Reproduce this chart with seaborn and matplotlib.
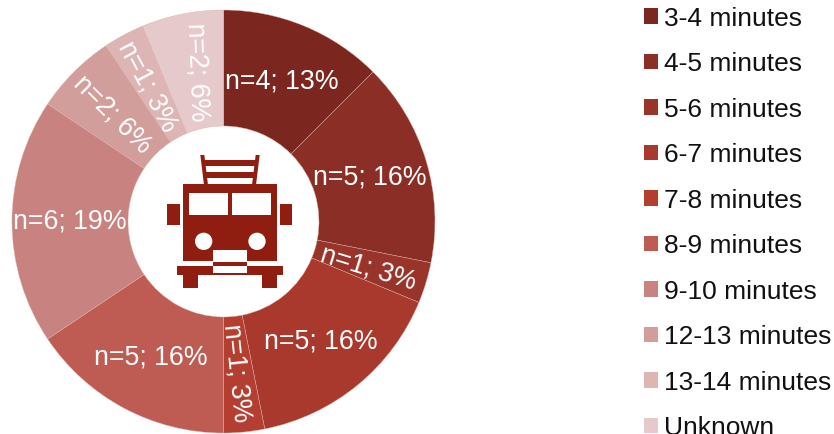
import matplotlib
matplotlib.use("Agg")
import matplotlib.pyplot as plt
import seaborn as sns
from matplotlib.patches import Circle, Patch, Polygon, Rectangle

# Response-time bands and their counts
categories = ["3-4 minutes", "4-5 minutes", "5-6 minutes", "6-7 minutes", "7-8 minutes",
              "8-9 minutes", "9-10 minutes", "12-13 minutes", "13-14 minutes", "Unknown"]
counts = [4, 5, 1, 5, 1, 5, 6, 2, 1, 2]
percents = [13, 16, 3, 16, 3, 16, 19, 6, 3, 6]
colors = ["#7B271F", "#8B2F26", "#98342A", "#A9392D", "#B43F31",
          "#BE5B52", "#C88380", "#D29E9C", "#DDB5B5", "#E6C9CB"]

# Label placement in pixels from the top-left corner, with rotation in degrees
label_xy = [(282, 81), (370, 178), (368, 268), (321, 341), (237, 373),
            (151, 358), (70, 222), (112, 115), (147, 87), (197, 72)]
label_rotation = [0, 0, -17, 0, -84, 0, 0, -45, -62, -88]

WIDTH, HEIGHT = 834, 434
sns.set_theme(style="white")
plt.rcParams["font.family"] = ["Liberation Sans", "DejaVu Sans"]
palette = sns.color_palette(colors)

fig = plt.figure(figsize=(WIDTH / 100, HEIGHT / 100), dpi=100)
ax = fig.add_axes([0, 0, 1, 1])

ax.pie(counts, colors=palette, startangle=90, counterclock=False,
       center=(223.5, HEIGHT - 221.5), radius=211.5,
       wedgeprops=dict(width=211.5 - 95.5, edgecolor="#DDB0A8", linewidth=0.3))
ax.set_xlim(0, WIDTH)
ax.set_ylim(0, HEIGHT)
ax.set_aspect("equal")
ax.axis("off")

for n, pct, (x, y), rot in zip(counts, percents, label_xy, label_rotation):
    ax.text(x, HEIGHT - y, f"n={n}; {pct}%", color="white", fontsize=19.3,
            rotation=rot, rotation_mode="anchor", ha="center", va="center")

# Fire engine icon in the hole, drawn on a 3x grid around its corner
TRUCK = "#8F1D10"


def tx(x):
    return 150 + x / 3


def ty(y):
    return HEIGHT - (140 + y / 3)


def box(x0, y0, x1, y1, color=TRUCK):
    ax.add_patch(Rectangle((tx(x0), ty(y1)), (x1 - x0) / 3, (y1 - y0) / 3,
                           facecolor=color, edgecolor="none", zorder=3))


def quad(points):
    ax.add_patch(Polygon([(tx(x), ty(y)) for x, y in points], closed=True,
                         facecolor=TRUCK, edgecolor="none", zorder=3))


quad([(151, 45), (163, 45), (174, 135), (162, 135)])
quad([(317, 45), (329, 45), (318, 135), (306, 135)])
box(158, 60, 322, 78)
box(160, 95, 320, 113)
box(98, 133, 380, 363)
box(116, 160, 234, 224, "white")
box(246, 160, 364, 224, "white")
box(52, 192, 90, 256)
box(390, 192, 426, 256)
box(82, 378, 398, 405)
box(98, 405, 144, 445)
box(336, 405, 380, 445)
box(190, 330, 290, 366, "white")
box(190, 366, 290, 378)
box(190, 378, 290, 400, "white")
for cx in (161, 321):
    ax.add_patch(Circle((tx(cx), ty(304)), 26 / 3, facecolor="white", edgecolor="none", zorder=4))

handles = [Patch(facecolor=c, edgecolor="none", label=name) for c, name in zip(palette, categories)]
ax.legend(handles=handles, loc="upper left", bbox_to_anchor=(644 / WIDTH, 1 - 6.5 / HEIGHT),
          bbox_transform=fig.transFigure, frameon=False, fontsize=19, labelcolor="#111111",
          handlelength=0.526, handleheight=0.526, handletextpad=0.22, labelspacing=0.815,
          borderaxespad=0, borderpad=0)

fig.savefig("out.png", dpi=100)
